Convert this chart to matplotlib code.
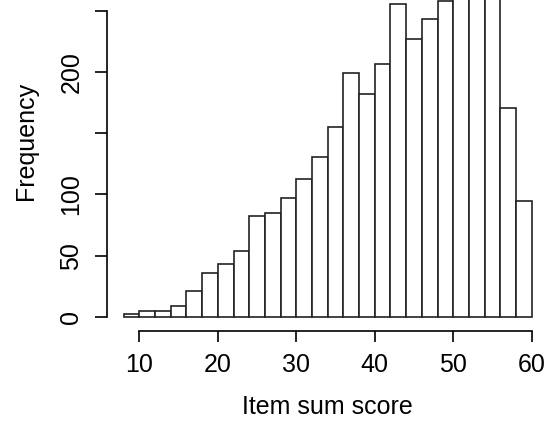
import numpy as np
import matplotlib.pyplot as plt

# histogram of item sum scores, bins of width 2 from 8 to 60
bin_edges = np.arange(8, 62, 2)
counts = [2, 5, 5, 9, 21, 36, 43, 54, 82, 85, 97, 113, 131,
          155, 199, 182, 207, 256, 227, 243, 258, 272, 289, 280, 171, 95]
xticks = [10, 20, 30, 40, 50, 60]
yticks = [0, 50, 100, 150, 200, 250]
ytick_labels = ["0", "50", "100", "", "200", ""]

plt.rcParams["font.family"] = ["Liberation Sans", "DejaVu Sans"]

fig = plt.figure(figsize=(5.55, 4.22), dpi=100)
ax = fig.add_axes([107.3 / 555, 91 / 422, 440.8 / 555, 382 / 422])

ax.hist(bin_edges[:-1], bins=bin_edges, weights=counts,
        facecolor="white", edgecolor="#222222", linewidth=1.2)

ymax = max(counts)
ax.set_xlim(8 - 0.04 * 52, 60 + 0.04 * 52)
ax.set_ylim(-0.04 * ymax, 1.04 * ymax)

for s in ["top", "right"]:
    ax.spines[s].set_visible(False)
ax.spines["left"].set_bounds(0, 250)
ax.spines["bottom"].set_bounds(10, 60)
ax.spines["left"].set_linewidth(1.2)
ax.spines["bottom"].set_linewidth(1.2)

ax.set_xticks(xticks)
ax.set_yticks(yticks)
ax.set_yticklabels(ytick_labels, rotation=90, va="center")
ax.tick_params(axis="x", length=8, width=1.2, labelsize=18, pad=7.5)
ax.tick_params(axis="y", length=8.6, width=1.2, labelsize=18, pad=8.7)

ax.set_xlabel("Item sum score", fontsize=18)
ax.set_ylabel("Frequency", fontsize=18)
ax.xaxis.set_label_coords(327.7 / 555, 1 - 395.5 / 422, transform=fig.transFigure)
ax.yaxis.set_label_coords(38.5 / 555, 1 - 141 / 422, transform=fig.transFigure)

fig.savefig("out.png", dpi=100)
